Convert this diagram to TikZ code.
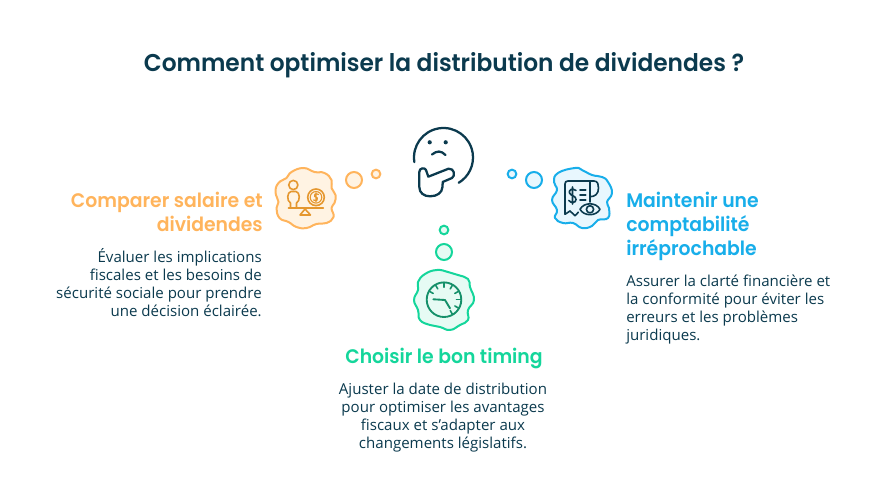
\documentclass[tikz,border=0pt]{standalone}
\usepackage{fontspec}
\setmainfont{Open Sans}
\newfontfamily\headfont[FakeStretch=0.96]{Poppins SemiBold}
\definecolor{ink}{HTML}{0B3A4E}
\definecolor{org}{HTML}{FFB45C}
\definecolor{orgf}{HTML}{FFF3E3}
\definecolor{orgd}{HTML}{E5972F}
\definecolor{blu}{HTML}{18AEEA}
\definecolor{bluf}{HTML}{E8F7FE}
\definecolor{grn}{HTML}{14D69B}
\definecolor{grnf}{HTML}{E6FBF4}
\definecolor{grnd}{HTML}{15906A}
\tikzset{
  x=0.75pt,y=-0.75pt,
  title/.style={font=\headfont\fontsize{18.2}{22}\selectfont,text=ink,inner sep=0,anchor=center},
  head/.style={font=\headfont\fontsize{14.7}{18}\selectfont,inner sep=0},
  body/.style={font=\fontsize{11.3}{13.5}\selectfont,text=ink,inner sep=0},
  bubble/.style={circle,draw,line width=1.5pt,inner sep=0},
  bigbubble/.style={bubble,minimum size=12pt},
  smallbubble/.style={bubble,minimum size=6.5pt},
  cloudline/.style={line width=1.5pt,line join=round},
  ic/.style={line width=1.2pt,line cap=round,line join=round},
  face/.style={draw=ink,line width=1.7pt,line cap=round,line join=round},
}
\newcommand{\blob}[5]{%
  \begin{scope}[shift={(#1,#2)}]
  \draw[cloudline,draw=#3,fill=#4] plot[smooth cycle,tension=0.8] coordinates{#5};
  \end{scope}}
\begin{document}
\begin{tikzpicture}
\useasboundingbox (0,0) rectangle (888,498);
\fill[white] (0,0) rectangle (888,498);
\node[title] (t) at (444,65) {Comment optimiser la distribution de dividendes ?};

% centre face
\draw[face] (443.5,157.5) ++(171:29.5) arc[start angle=171,end angle=419,radius=29.5];
\fill[ink] (429.7,142.3) circle (2.1);
\fill[ink] (445.7,142.3) circle (2.1);
\draw[face] (432,154.5) .. controls (437,150.5) and (441,150.5) .. (445.5,155);
\draw[face] (428.3,176.7) -- (426,170) .. controls (425,167.5) and (419.3,167.5) .. (419.3,172) -- (419.3,187)
  .. controls (419.3,193) and (424,196.3) .. (430,196.3) .. controls (437,196.3) and (442,193) .. (442.5,187) -- (442.7,182) -- (452,178)
  .. controls (455.5,176) and (454.5,168) .. (448.5,168.7) -- cycle;

% bubbles
\node[bigbubble,draw=org,fill=orgf] (o1) at (354,180) {};
\node[smallbubble,draw=org,fill=orgf] (o2) at (376,174) {};
\node[bigbubble,draw=blu,fill=bluf] (b1) at (534,180) {};
\node[smallbubble,draw=blu,fill=bluf] (b2) at (512,174) {};
\node[bigbubble,draw=grn,fill=grnf] (g1) at (444,252) {};
\node[smallbubble,draw=grn,fill=grnf] (g2) at (444,230) {};

% clouds
\blob{305.5}{198}{org}{orgf}{(-2,-30)(9,-26)(19,-25)(26,-18)(26,-10)(30,-3)(29,5)(26,10)(28,19)(21,25)(11,26)(1,30)(-9,29)(-17,24)(-26,20)(-29,10)(-27,4)(-30,-6)(-27,-15)(-19,-20)(-14,-26)}
\blob{582}{198}{blu}{bluf}{(-7,-30)(-24,-25)(-28,-16)(-25,-8)(-30,2)(-25,12)(-27,20)(-19,25)(-9,25)(0,30)(10,28)(16,22)(26,20)(27,10)(25,4)(30,-5)(26,-16)(20,-21)(10,-23)(0,-28)}
\blob{444}{300}{grn}{grnf}{(-19,-26)(-26,-18)(-26,-10)(-30,0)(-26,10)(-24,20)(-14,25)(-4,27)(6,30)(16,25)(24,20)(24,10)(30,0)(26,-13)(24,-21)(14,-25)(4,-28)(-7,-30)}

% scale icon
\begin{scope}[ic,draw=orgd]
\draw (293.3,185) circle (4.6);
\draw (290.5,207) -- (290.5,203) .. controls (286.5,201) and (287,192) .. (291,191.5) -- (296,191.5) .. controls (300,192) and (300.5,201) .. (296.5,203) -- (296.5,207);
\draw (316,197.3) circle (8.3);
\draw[line width=0.8pt] (316,197.3) circle (5.8);
\draw[line width=0.9pt] (318.5,194.5) .. controls (315.5,192.8) and (313.2,194.8) .. (314.6,196.4) -- (317.4,198) .. controls (318.8,200) and (316,201.5) .. (313.6,200) (316,192.8)--(316,202);
\draw[line width=1.3pt] (288.5,207.7) -- (323.3,207.7);
\draw (305,209) -- (300,215) -- (310.5,215) -- cycle;
\end{scope}

% receipt icon
\begin{scope}[ic,draw=ink]
\draw (570,211) -- (565,214.3) -- (565,184) .. controls (565,182) and (566,181) .. (568,181) -- (594,181) .. controls (598,181) and (598.5,185) .. (598.5,188) .. controls (598.5,194) and (595,196.7) .. (590,196.7);
\draw (590,181) -- (590,202);
\draw (570,211) -- (575,215.7) -- (578.3,212.3);
\draw (576,190.5) .. controls (572,187.5) and (568.5,190) .. (569.5,193) .. controls (570.5,196) and (576,195.5) .. (576,199.5) .. controls (576,203) and (571,203.5) .. (568.8,200.5) (572.5,187) -- (572.5,204);
\draw (580,190) -- (585.7,190) (580,195) -- (585.7,195) (580,200) -- (585.7,200);
\draw (580,209.3) .. controls (584,202) and (596,202) .. (600,209.3) .. controls (596,216.5) and (584,216.5) .. (580,209.3) -- cycle;
\draw (590,209.3) circle (3.6);
\end{scope}

% clock icon
\begin{scope}[ic,draw=grnd]
\draw[line width=1.4pt] (444,299.7) circle (17.3);
\foreach \a in {-150,-120,-90,-60,-30,0,30,60}{\draw (444,299.7) ++(\a:12.5) -- ++(\a:4);}
\draw[line width=1.4pt] (433.3,299.3) -- (445,300) -- (450,308.3);
\end{scope}

% texts
\node[head,text=org,align=right,anchor=north east] (lh) at (263,192) {Comparer salaire et\\dividendes};
\node[body,align=right,anchor=north east] (lb) at (262,248) {Évaluer les implications\\fiscales et les besoins de\\sécurité sociale pour prendre\\une décision éclairée.};
\node[head,text=blu,align=left,anchor=north west] (rh) at (626,192) {Maintenir une\\comptabilité\\irréprochable};
\node[body,align=left,anchor=north west] (rb) at (626,274.5) {Assurer la clarté financière et\\la conformité pour éviter les\\erreurs et les problèmes\\juridiques.};
\node[head,text=grn,anchor=center] (gh) at (444,358) {Choisir le bon timing};
\node[body,align=center,anchor=north] (gb) at (443,383) {Ajuster la date de distribution\\pour optimiser les avantages\\fiscaux et s'adapter aux\\changements législatifs.};
\end{tikzpicture}
\end{document}
